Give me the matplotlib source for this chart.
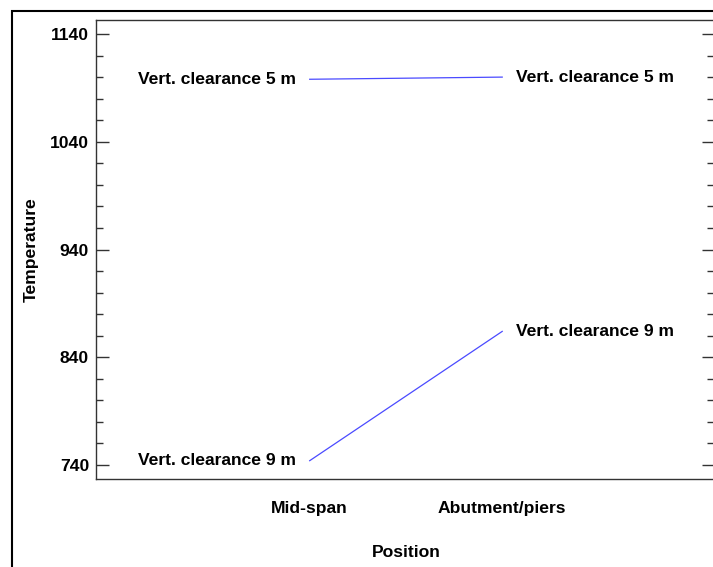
import matplotlib.pyplot as plt
from matplotlib.patches import Rectangle
from matplotlib.ticker import MultipleLocator

plt.rcParams['font.family'] = ['Liberation Sans', 'DejaVu Sans']

positions = ["Mid-span", "Abutment/piers"]
series_names = ["Vert. clearance 5 m", "Vert. clearance 9 m"]
clearance_5m = [1098, 1100]
clearance_9m = [744, 864]

FS = 12.6

fig = plt.figure(figsize=(7.13, 5.67), dpi=100)
ax = fig.add_axes([96 / 713, 1 - 479 / 567, 618 / 713, 459 / 567])

# outer frame (cropped on right and bottom)
fig.patches.append(Rectangle((12 / 713, -0.05), 1.1, 1 - 11 / 567 + 0.05,
                             transform=fig.transFigure, fill=False,
                             edgecolor='black', linewidth=1.5))

x = [1, 2]
for name, vals in zip(series_names, [clearance_5m, clearance_9m]):
    ax.plot(x, vals, color='#4a4aff', linewidth=0.9)
    ax.annotate(name, (x[0], vals[0]), xytext=(-14, 0), textcoords='offset pixels',
                ha='right', va='center', fontsize=FS, fontweight='bold')
    ax.annotate(name, (x[1], vals[1]), xytext=(14, 0), textcoords='offset pixels',
                ha='left', va='center', fontsize=FS, fontweight='bold')

ax.set_xlim(-0.11, 3.1)
ax.set_ylim(727, 1153)
ax.set_xticks(x)
ax.set_xticklabels(positions, fontsize=FS, fontweight='bold')
ax.set_yticks([740, 840, 940, 1040, 1140])
ax.yaxis.set_minor_locator(MultipleLocator(20))
ax.tick_params(axis='x', length=0, pad=15.5)
ax.tick_params(axis='y', which='major', direction='in', length=9, width=1,
               right=True, labelsize=FS, pad=5, color='#333333')
ax.tick_params(axis='y', which='minor', direction='in', length=5, width=1,
               right=True, color='#333333')
for lab in ax.get_yticklabels():
    lab.set_fontweight('bold')

for s in ax.spines.values():
    s.set_color('#333333')
    s.set_linewidth(1)

ax.set_xlabel("Position", fontsize=FS, fontweight='bold')
ax.set_ylabel("Temperature", fontsize=FS, fontweight='bold')
ax.xaxis.set_label_coords((406 - 96) / 618, (479 - 545) / 459)
ax.yaxis.set_label_coords((39 - 96) / 618, (479 - 250) / 459)

fig.savefig("out.png", dpi=100)
